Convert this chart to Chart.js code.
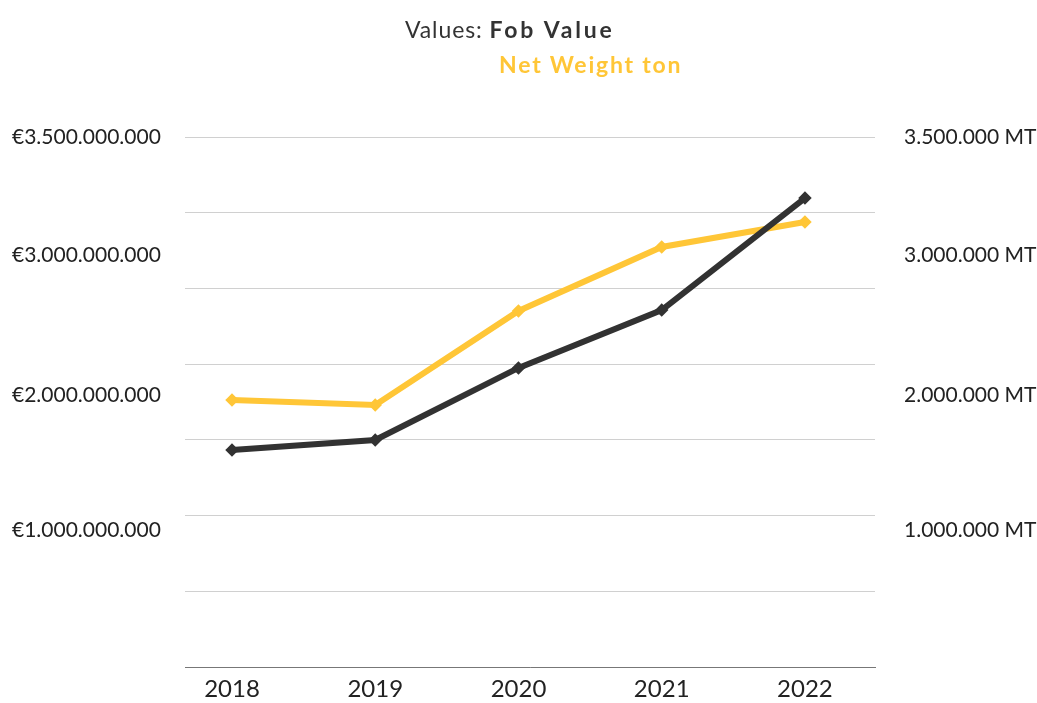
<!DOCTYPE html>
<html>
<head>
<meta charset="utf-8">
<script src="https://cdn.jsdelivr.net/npm/chart.js@4/dist/chart.umd.min.js"></script>
<style>
  html, body { margin: 0; padding: 0; background: #fff; }
  #wrap { position: relative; width: 1037px; height: 703px; font-family: Lato, "Open Sans", sans-serif; }
  #chart { position: absolute; left: 0; top: 0; }
  .title { position: absolute; font-size: 23px; color: #333; white-space: nowrap; line-height: 1; }
  .title b { font-weight: 700; letter-spacing: 2.8px; }
  #t1 { left: 405px; top: 18px; letter-spacing: 0.9px; }
  #t2 { left: 499px; top: 53px; color: #ffc637; font-weight: 700; letter-spacing: 1.8px; }
</style>
</head>
<body>
<div id="wrap">
  <canvas id="chart" width="1037" height="703"></canvas>
  <div class="title" id="t1">Values: <b>Fob Value</b></div>
  <div class="title" id="t2">Net Weight ton</div>
</div>
<script>
// ===== Data =====
const years = [2018, 2019, 2020, 2021, 2022];
const fobValue = [1.433e9, 1.499e9, 1.975e9, 2.357e9, 3.097e9];
const netWeight = [1.763e6, 1.730e6, 2.351e6, 2.774e6, 2.939e6];

const leftTickLabels = ["€3.500.000.000", "€3.000.000.000", "€2.000.000.000", "€1.000.000.000"];
const rightTickLabels = ["3.500.000 MT", "3.000.000 MT", "2.000.000 MT", "1.000.000 MT"];

// ===== Layout =====
const fobMax = 3.5e9;
const weightMax = 3.5e6;
// where the axis labels sit, as a share of the axis height
const labelSpots = [1, 0.777, 0.513, 0.258];

function toPoints(values) {
  return values.map(function (v, i) {
    return { x: years[i], y: v };
  });
}

// put tick labels at fixed spots on a scale
function spotTicks(max, labels) {
  return function (scale) {
    scale.ticks = labelSpots.map(function (s, i) {
      return { value: s * max, label: labels[i] };
    });
  };
}

const tickFont = { family: "Lato", size: 21 };

new Chart(document.getElementById("chart"), {
  type: "line",
  data: {
    datasets: [
      {
        label: "Fob Value",
        data: toPoints(fobValue),
        yAxisID: "yFob",
        borderColor: "#323232",
        backgroundColor: "#323232",
        borderWidth: 6,
        pointStyle: "rectRot",
        pointRadius: 2.5,
        tension: 0,
      },
      {
        label: "Net Weight ton",
        data: toPoints(netWeight),
        yAxisID: "yWeight",
        borderColor: "#ffc637",
        backgroundColor: "#ffc637",
        borderWidth: 6,
        pointStyle: "rectRot",
        pointRadius: 2.5,
        tension: 0,
      },
    ],
  },
  options: {
    responsive: false,
    animation: false,
    layout: { padding: { left: 12, right: 0, top: 137, bottom: 0 } },
    plugins: {
      legend: { display: false },
      tooltip: { enabled: false },
    },
    scales: {
      x: {
        type: "linear",
        min: 2017.672,
        max: 2022.489,
        afterBuildTicks: function (scale) {
          scale.ticks = years.map(function (y) { return { value: y }; });
        },
        ticks: {
          callback: function (v) { return String(v); },
          font: { family: "Lato", size: 24 },
          color: "#222",
          padding: 8,
          maxRotation: 0,
        },
        grid: { display: false, drawTicks: false },
        border: { display: true, color: "#777", width: 1 },
        afterFit: function (scale) { scale.height = 36; },
      },
      yFob: {
        type: "linear",
        position: "left",
        min: 0,
        max: fobMax,
        afterBuildTicks: spotTicks(fobMax, leftTickLabels),
        ticks: {
          font: tickFont,
          color: "#222",
          crossAlign: "far",
          callback: function (v, i) { return leftTickLabels[i]; },
        },
        grid: { display: false, drawTicks: false },
        border: { display: false },
        afterFit: function (scale) { scale.width = 173; },
      },
      yWeight: {
        type: "linear",
        position: "right",
        min: 0,
        max: weightMax,
        afterBuildTicks: spotTicks(weightMax, rightTickLabels),
        ticks: {
          font: tickFont,
          color: "#222",
          padding: 3,
          callback: function (v, i) { return rightTickLabels[i]; },
        },
        // gap between plot and labels comes from an undrawn tick mark
        grid: { display: false, drawTicks: true, tickLength: 26 },
        border: { display: false },
        afterFit: function (scale) { scale.width = 162; },
      },
      yGrid: {
        type: "linear",
        position: "right",
        min: 0,
        max: fobMax,
        ticks: { display: false, stepSize: 0.5e9 },
        grid: { color: "#d0d0d0", lineWidth: 1, drawTicks: false },
        border: { display: false },
        afterFit: function (scale) { scale.width = 0; },
      },
    },
  },
});
</script>
</body>
</html>
